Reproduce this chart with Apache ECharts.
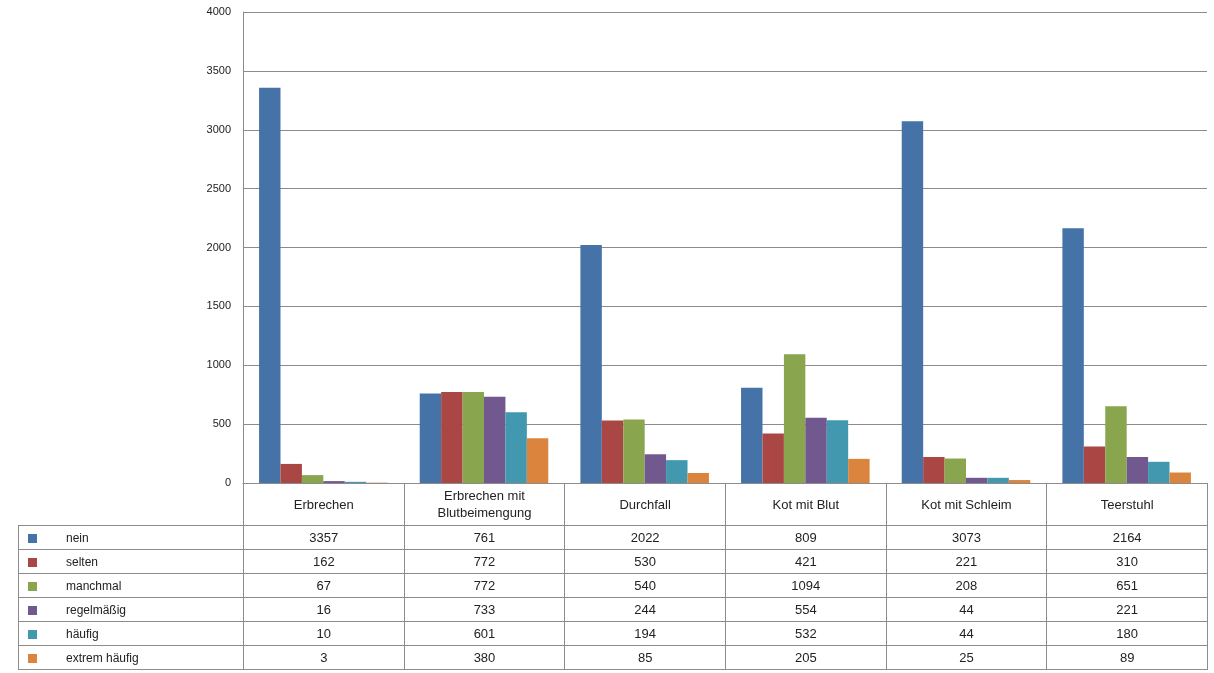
<!DOCTYPE html>
<html>
<head>
<meta charset="utf-8">
<script src="https://cdn.jsdelivr.net/npm/echarts@6/dist/echarts.min.js"></script>
<style>
  body { margin: 0; background: #fff; }
  #chart { position: absolute; left: 0; top: 0; width: 1214px; height: 673px; }
  #tbl {
    position: absolute; left: 18px; top: 483px; width: 1190px;
    border-collapse: collapse; table-layout: fixed;
    font-family: "Liberation Sans", Arial, sans-serif; font-size: 13px; color: #222;
  }
  #tbl td { border: 1px solid #8c8c8c; text-align: center; padding: 0; height: 23px; }
  #tbl tr.head td { height: 42px; border-top: none; line-height: 17px; }
  #tbl tr.head td.blank { border: none; border-bottom: 1px solid #8c8c8c; }
  #tbl td.lab { text-align: left; font-size: 12px; }
  #tbl td.lab span.key { display: inline-block; width: 9px; height: 9px; margin: 0 29px 0 9px; vertical-align: -1px; }
</style>
</head>
<body>
<div id="chart"></div>
<table id="tbl"></table>
<script>
const categories = ["Erbrechen", "Erbrechen mit\nBlutbeimengung", "Durchfall", "Kot mit Blut", "Kot mit Schleim", "Teerstuhl"];
const seriesNames = ["nein", "selten", "manchmal", "regelmäßig", "häufig", "extrem häufig"];
const colors = ["#4572A7", "#AA4643", "#89A54E", "#71588F", "#4198AF", "#DB843D"];
const nein = [3357, 761, 2022, 809, 3073, 2164];
const selten = [162, 772, 530, 421, 221, 310];
const manchmal = [67, 772, 540, 1094, 208, 651];
const regelmaessig = [16, 733, 244, 554, 44, 221];
const haeufig = [10, 601, 194, 532, 44, 180];
const extremHaeufig = [3, 380, 85, 205, 25, 89];
const values = [nein, selten, manchmal, regelmaessig, haeufig, extremHaeufig];

const chart = echarts.init(document.getElementById('chart'));
chart.setOption({
  animation: false,
  grid: { left: 243, right: 7, top: 12, bottom: 190 },
  xAxis: {
    type: 'category',
    data: categories,
    axisLine: { lineStyle: { color: '#8c8c8c' } },
    axisTick: { show: false },
    axisLabel: { show: false }
  },
  yAxis: {
    type: 'value',
    min: 0, max: 4000, interval: 500,
    axisLine: { show: true, lineStyle: { color: '#8c8c8c' } },
    axisTick: { show: false },
    axisLabel: {
      color: '#222', fontSize: 11, margin: 12,
      fontFamily: 'Liberation Sans, Arial, sans-serif',
      formatter: v => String(v)
    },
    splitLine: { lineStyle: { color: '#8c8c8c' } }
  },
  series: seriesNames.map((name, i) => ({
    name: name,
    type: 'bar',
    data: values[i],
    barGap: '0%',
    barCategoryGap: '20%',
    itemStyle: { color: colors[i] }
  }))
});

// data table below the plot
const tbl = document.getElementById('tbl');
let html = '<colgroup><col style="width:225px">' + categories.map(() => '<col>').join('') + '</colgroup>';
html += '<tr class="head"><td class="blank"></td>' + categories.map(c => '<td>' + c.replace('\n', '<br>') + '</td>').join('') + '</tr>';
seriesNames.forEach((name, i) => {
  html += '<tr><td class="lab"><span class="key" style="background:' + colors[i] + '"></span>' + name + '</td>' +
    values[i].map(v => '<td>' + v + '</td>').join('') + '</tr>';
});
tbl.innerHTML = html;
</script>
</body>
</html>
